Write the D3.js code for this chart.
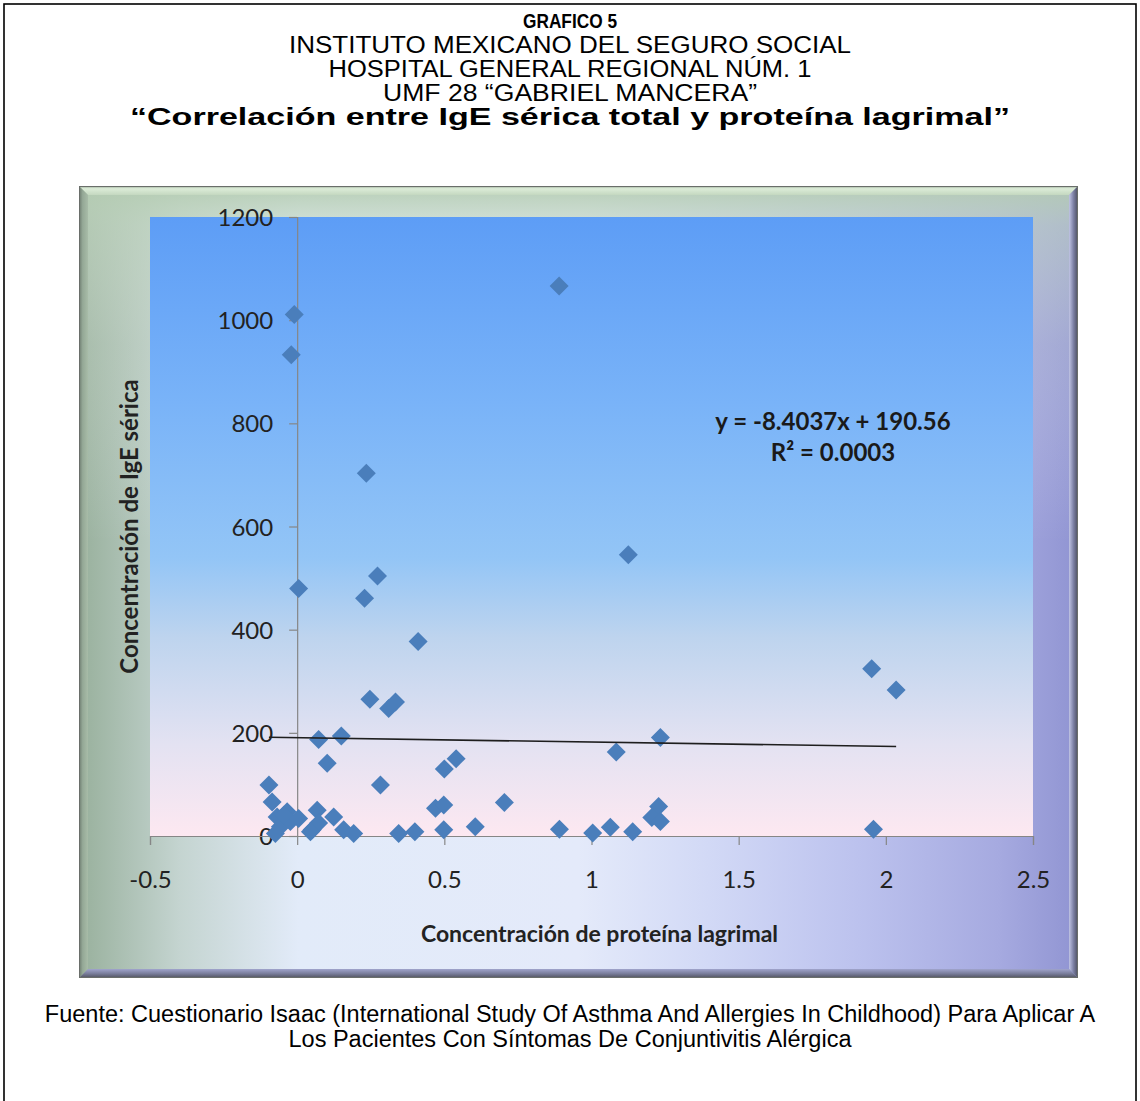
<!DOCTYPE html>
<html><head><meta charset="utf-8">
<script src="https://cdn.jsdelivr.net/npm/d3@7"></script>
<style>body{margin:0;background:#fff}svg{display:block}</style>
</head><body>
<svg id="c" width="1140" height="1101"></svg>
<script>
// ---------- data ----------
const titleLines = [
  "GRAFICO 5",
  "INSTITUTO MEXICANO DEL SEGURO SOCIAL",
  "HOSPITAL GENERAL REGIONAL NÚM. 1",
  "UMF 28 “GABRIEL MANCERA”",
  "“Correlación entre IgE sérica total y proteína lagrimal”"
];
const footerLines = [
  "Fuente: Cuestionario Isaac (International Study Of Asthma And Allergies In Childhood) Para Aplicar A",
  "Los Pacientes Con Síntomas De Conjuntivitis Alérgica"
];
const xTitle = "Concentración de proteína lagrimal";
const yTitle = "Concentración de IgE sérica";
const equationLines = ["y = -8.4037x + 190.56", "R² = 0.0003"];
const trendSlope = -8.4037;
const trendIntercept = 190.56;

const xTicks = [-0.5, 0, 0.5, 1, 1.5, 2, 2.5];
const xTickLabels = ["-0.5", "0", "0.5", "1", "1.5", "2", "2.5"];
const yTicks = [0, 200, 400, 600, 800, 1000, 1200];
const yTickLabels = ["0", "200", "400", "600", "800", "1000", "1200"];

// proteína lagrimal (x) and IgE sérica (y)
const xValues = [-0.01, -0.02, 0.89, 0.235, 1.125, 0.273, 0.005, 0.229, 0.411, 1.952,
  2.035, 0.247, 0.311, 0.334, 0.073, 0.150, 1.234, 1.084, 0.102, 0.50,
  0.54, -0.096, 0.283, -0.085, 0.47, 0.498, 0.704, 1.228, 1.205, 1.234,
  -0.068, -0.034, -0.057, -0.074, -0.023, 0.005, 0.068, 0.051, 0.073, 0.124,
  0.158, 0.192, 0.345, 0.40, 0.498, 0.605, 0.891, 1.004, 1.064, 1.14,
  1.958, 0.045, -0.045];
const yValues = [1011, 933, 1066, 703, 545, 504, 480, 461, 377, 324,
  283, 265, 247, 260, 187, 194, 191, 163, 141, 130,
  150, 99, 99, 66, 54, 60, 65, 57, 36, 28,
  37, 47, 18, 5, 28, 34, 50, 12, 25, 37,
  12, 5, 5, 8, 12, 18, 13, 6, 17, 8,
  13, 8, 40];

// ---------- drawing ----------
const svg = d3.select("#c");
const defs = svg.append("defs");

function lg(id, x1, y1, x2, y2, stops) {
  const g = defs.append("linearGradient").attr("id", id)
    .attr("x1", x1).attr("y1", y1).attr("x2", x2).attr("y2", y2);
  stops.forEach(s => g.append("stop").attr("offset", s[0]).attr("stop-color", s[1])
    .attr("stop-opacity", s[2] === undefined ? 1 : s[2]));
}
lg("frameH", 0, 0, 1, 0, [[0, "#98b09c"], [0.1, "#c4d4d0"], [0.22, "#e2ebf9"], [0.5, "#e4eafa"],
  [0.63, "#d2d9f6"], [0.78, "#bcc2ee"], [0.92, "#a6aae0"], [1, "#9094d2"]]);
lg("frameV", 0, 0, 0, 1, [[0, "#b4ccb2", 0.95], [0.05, "#c4d8c2", 0.6], [0.2, "#d4e0d4", 0.25], [0.45, "#ffffff", 0]]);
lg("plotBg", 0, 0, 0, 1, [[0, "#5d9df6"], [0.3, "#79b3f8"], [0.55, "#93c5f6"], [0.68, "#bed4ee"],
  [0.85, "#e3e2f2"], [1, "#fde8f1"]]);
lg("bevTop", 0, 0, 0, 1, [[0, "#9aac98"], [0.3, "#dcecd8"], [1, "#c4d8c0"]]);
lg("bevLeft", 0, 0, 1, 0, [[0, "#6c7a6e"], [0.4, "#94a896"], [1, "#a8bca8"]]);
lg("bevRight", 0, 0, 1, 0, [[0, "#c0c4e4"], [0.5, "#7c80a4"], [1, "#4a4c5c"]]);
lg("bevBottom", 0, 0, 0, 1, [[0, "#a0a4cc"], [0.5, "#7a7e9c"], [1, "#50525e"]]);

// page border
svg.append("rect").attr("x", 4).attr("y", 4).attr("width", 1132).attr("height", 1200)
  .attr("fill", "none").attr("stroke", "#000").attr("stroke-width", 1.6);

// titles (widths matched to the reference layout)
const titleG = svg.append("g").attr("font-family", "'Liberation Sans', Arial, sans-serif")
  .attr("fill", "#000").attr("text-anchor", "middle");
const titleBase = [28, 53, 77, 101, 125];
const titleSize = [21, 23, 23, 23, 23];
const titleWidth = [94, 562, 483, 374, 880];
titleLines.forEach((t, i) => {
  titleG.append("text").attr("x", 570).attr("y", titleBase[i])
    .attr("font-size", titleSize[i])
    .attr("font-weight", (i === 0 || i === 4) ? "bold" : "normal")
    .attr("textLength", titleWidth[i]).attr("lengthAdjust", "spacingAndGlyphs")
    .text(t);
});

// frame
const F = {x0: 79, y0: 186, x1: 1078, y1: 978, b: 9};
svg.append("rect").attr("x", F.x0).attr("y", F.y0).attr("width", F.x1 - F.x0).attr("height", F.y1 - F.y0)
  .attr("fill", "url(#frameH)");
svg.append("rect").attr("x", F.x0).attr("y", F.y0).attr("width", F.x1 - F.x0).attr("height", F.y1 - F.y0)
  .attr("fill", "url(#frameV)");
const poly = (pts, fill) => svg.append("polygon").attr("points", pts.map(p => p.join(",")).join(" ")).attr("fill", fill);
poly([[F.x0, F.y0], [F.x1, F.y0], [F.x1 - F.b, F.y0 + F.b], [F.x0 + F.b, F.y0 + F.b]], "url(#bevTop)");
poly([[F.x0, F.y0], [F.x0 + F.b, F.y0 + F.b], [F.x0 + F.b, F.y1 - F.b], [F.x0, F.y1]], "url(#bevLeft)");
poly([[F.x1, F.y0], [F.x1, F.y1], [F.x1 - F.b, F.y1 - F.b], [F.x1 - F.b, F.y0 + F.b]], "url(#bevRight)");
poly([[F.x0, F.y1], [F.x1, F.y1], [F.x1 - F.b, F.y1 - F.b], [F.x0 + F.b, F.y1 - F.b]], "url(#bevBottom)");
svg.append("rect").attr("x", F.x0 + 0.5).attr("y", F.y0 + 0.5).attr("width", F.x1 - F.x0 - 1).attr("height", F.y1 - F.y0 - 1)
  .attr("fill", "none").attr("stroke", "#6a6e6a").attr("stroke-width", 1);

// scales
const x = d3.scaleLinear().domain([-0.5, 2.5]).range([150, 1033]);
const y = d3.scaleLinear().domain([0, 1200]).range([836, 217]);

// plot area
svg.append("rect").attr("x", x(-0.5)).attr("y", y(1200)).attr("width", x(2.5) - x(-0.5))
  .attr("height", y(0) - y(1200)).attr("fill", "url(#plotBg)");

const tickFont = "Lato, 'Open Sans', sans-serif";
// y axis at x = 0
const yAxis = svg.append("g").attr("transform", `translate(${x(0)},0)`)
  .call(d3.axisLeft(y).tickValues(yTicks).tickFormat((d, i) => yTickLabels[i]).tickSize(8).tickPadding(16));
yAxis.select(".domain").attr("stroke", "#868686").attr("stroke-width", 1.2);
yAxis.selectAll(".tick line").attr("stroke", "#868686").attr("stroke-width", 1.2);
yAxis.selectAll(".tick text").attr("font-family", tickFont).attr("font-size", 24).attr("fill", "#222")
  .attr("dy", "0.36em");

// x axis at y = 0
const xAxis = svg.append("g").attr("transform", `translate(0,${y(0)})`)
  .call(d3.axisBottom(x).tickValues(xTicks).tickFormat((d, i) => xTickLabels[i]).tickSize(9).tickPadding(34));
xAxis.select(".domain").attr("stroke", "#868686").attr("stroke-width", 1.2);
xAxis.selectAll(".tick line").attr("stroke", "#868686").attr("stroke-width", 1.2);
xAxis.selectAll(".tick text").attr("font-family", tickFont).attr("font-size", 24).attr("fill", "#222")
  .attr("dy", "0.36em");

// points
const pts = xValues.map((v, i) => ({x: v, y: yValues[i]}));
const diamond = r => `M0,${-r}L${r},0L0,${r}L${-r},0Z`;
svg.append("g").selectAll("path").data(pts).join("path")
  .attr("transform", d => `translate(${x(d.x)},${y(d.y)})`)
  .attr("d", diamond(9.5)).attr("fill", "#4a7ebb");

// trend line
const xr = d3.extent(xValues);
svg.append("line")
  .attr("x1", x(xr[0])).attr("y1", y(trendSlope * xr[0] + trendIntercept))
  .attr("x2", x(xr[1])).attr("y2", y(trendSlope * xr[1] + trendIntercept))
  .attr("stroke", "#1e1e1e").attr("stroke-width", 1.6);

// equation
const eq = svg.append("g").attr("font-family", tickFont).attr("font-size", 24).attr("font-weight", "bold")
  .attr("fill", "#1a1a1a").attr("text-anchor", "middle");
eq.append("text").attr("x", 833).attr("y", 430).text(equationLines[0]);
eq.append("text").attr("x", 833).attr("y", 461).text(equationLines[1]);

// axis titles
svg.append("text").attr("x", (x(-0.5) + x(2.5)) / 2 + 8).attr("y", 942).attr("text-anchor", "middle")
  .attr("font-family", tickFont).attr("font-size", 23).attr("font-weight", "bold").attr("fill", "#222")
  .text(xTitle);
svg.append("text").attr("transform", `translate(138,${(y(0) + y(1200)) / 2}) rotate(-90)`)
  .attr("text-anchor", "middle")
  .attr("font-family", tickFont).attr("font-size", 24).attr("font-weight", "bold").attr("fill", "#222")
  .text(yTitle);

// footer
const footG = svg.append("g").attr("font-family", "'Liberation Sans', Arial, sans-serif")
  .attr("font-size", 23.5).attr("fill", "#000").attr("text-anchor", "middle");
[1022, 1047].forEach((b, i) => footG.append("text").attr("x", 570).attr("y", b).text(footerLines[i]));
</script>
</body></html>
